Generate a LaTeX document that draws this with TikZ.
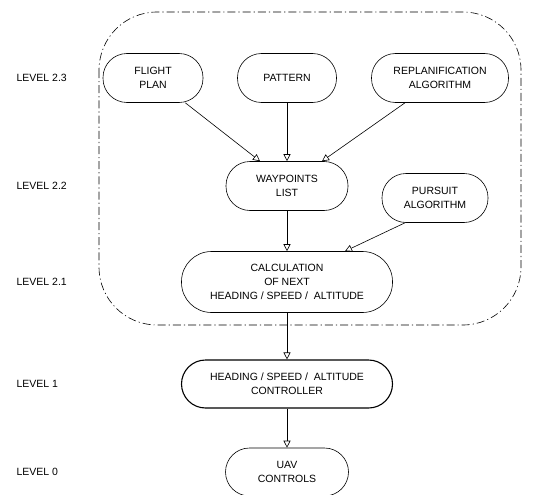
\documentclass[tikz,border=0pt]{standalone}
\usepackage{fontspec}
\setmainfont{Liberation Sans}
\usetikzlibrary{arrows.meta, positioning, calc}

\begin{document}
\begin{tikzpicture}[x=1pt, y=-1pt, line width=0.6pt,
  every node/.style={font=\fontsize{10.5}{14}\selectfont},
  box/.style={draw, rounded corners=24pt, align=center, minimum height=49pt, inner sep=2pt},
  lvl/.style={anchor=west},
  flow/.style={-{Triangle[open, length=7pt, width=7pt]}},
  zone/.style={dash pattern=on 8pt off 3pt on 1.2pt off 3pt, rounded corners=58pt}]
\useasboundingbox (0,0) rectangle (538,495);

% group of level 2
\draw[zone] (99,12) rectangle (521,325);

\node[box, minimum width=100pt] (fp) at (153,78) {FLIGHT\\PLAN};
\node[box, minimum width=99pt] (pat) at (287,78) {PATTERN};
\node[box, minimum width=137pt] (rep) at (440,78) {REPLANIFICATION\\ALGORITHM};
\node[box, minimum width=122pt] (wp) at (287,186) {WAYPOINTS\\LIST};
\node[box, minimum width=106pt] (pur) at (435,198) {PURSUIT\\ALGORITHM};
\node[box, minimum width=211pt, minimum height=61pt, rounded corners=30pt] (nextcalc) at (287,282) {CALCULATION\\OF NEXT\\HEADING / SPEED /~ ALTITUDE};
\node[box, minimum width=211pt, minimum height=48pt, line width=1.1pt] (ctrl) at (287,384) {HEADING / SPEED /~ ALTITUDE\\CONTROLLER};
\node[box, minimum width=123pt, minimum height=48pt] (uav) at (287,472) {UAV\\CONTROLS};

\node[lvl] (l23) at (13,78) {LEVEL 2.3};
\node[lvl] (l22) at (13,186) {LEVEL 2.2};
\node[lvl] (l21) at (13,282) {LEVEL 2.1};
\node[lvl] (l1) at (13,384) {LEVEL 1};
\node[lvl] (l0) at (13,472) {LEVEL 0};

\draw[flow] ([xshift=-18pt]fp.south east) -- ([xshift=-27pt]wp.north);
\draw[flow] (pat.south) -- (wp.north);
\draw[flow] ([xshift=-35pt]rep.south) -- ([xshift=35pt]wp.north);
\draw[flow] (wp.south) -- (nextcalc.north);
\draw[flow] ([xshift=-30pt]pur.south) -- ([xshift=58pt]nextcalc.north);
\draw[flow] (nextcalc.south) -- (ctrl.north);
\draw[flow] (ctrl.south) -- (uav.north);
\end{tikzpicture}
\end{document}
